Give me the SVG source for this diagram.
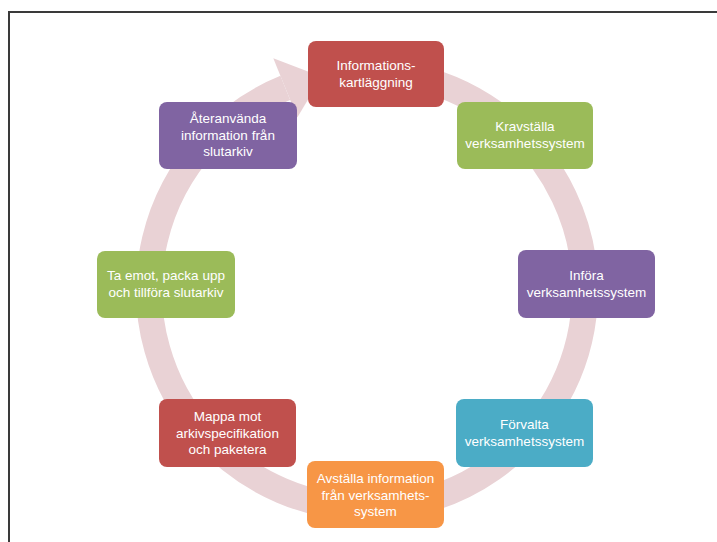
<svg xmlns="http://www.w3.org/2000/svg" width="717" height="542" viewBox="0 0 717 542">
<style>
.box{stroke:none}
.t{font-family:"Liberation Sans",Arial,sans-serif;font-size:13.5px;fill:#ffffff;text-anchor:middle}
.red{fill:#c0504d}.green{fill:#9bbb59}.purple{fill:#8064a2}.teal{fill:#4bacc6}.orange{fill:#f79646}
.ring{fill:none;stroke:#e9d2d5;stroke-width:26}
</style>
<rect x="0" y="0" width="717" height="542" fill="#ffffff"/>
<rect x="9" y="12" width="720" height="540" fill="none" stroke="#3a3a3a" stroke-width="2"/>
<g id="connectors">
<path class="ring" d="M 404.9 75.3 A 218 218 0 1 1 285.3 87.9"/>
<polygon points="273.3,58.2 321.7,76.8 297.3,117.5" fill="#e9d2d5"/>
</g>
<g id="n1"><rect class="box red" x="308" y="41" width="136" height="66" rx="8"/>
<text class="t" x="376" y="70">Informations-</text><text class="t" x="376" y="87">kartläggning</text></g>
<g id="n2"><rect class="box green" x="457" y="102" width="136" height="67" rx="8"/>
<text class="t" x="525" y="131">Kravställa</text><text class="t" x="525" y="148">verksamhetssystem</text></g>
<g id="n3"><rect class="box purple" x="518" y="250" width="137" height="68" rx="8"/>
<text class="t" x="586.5" y="280">Införa</text><text class="t" x="586.5" y="297">verksamhetssystem</text></g>
<g id="n4"><rect class="box teal" x="456" y="399" width="137" height="68" rx="8"/>
<text class="t" x="524.5" y="429">Förvalta</text><text class="t" x="524.5" y="446">verksamhetssystem</text></g>
<g id="n5"><rect class="box orange" x="307" y="461" width="137" height="67" rx="8"/>
<text class="t" x="375.5" y="483">Avställa information</text><text class="t" x="375.5" y="499.5">från verksamhets-</text><text class="t" x="375.5" y="516">system</text></g>
<g id="n6"><rect class="box red" x="159" y="399" width="137" height="68" rx="8"/>
<text class="t" x="227.5" y="421">Mappa mot</text><text class="t" x="227.5" y="437.5">arkivspecifikation</text><text class="t" x="227.5" y="454">och paketera</text></g>
<g id="n7"><rect class="box green" x="97" y="251" width="138" height="67" rx="8"/>
<text class="t" x="166" y="280">Ta emot, packa upp</text><text class="t" x="166" y="297">och tillföra slutarkiv</text></g>
<g id="n8"><rect class="box purple" x="159" y="102" width="138" height="67" rx="8"/>
<text class="t" x="228" y="123">Återanvända</text><text class="t" x="228" y="139.5">information från</text><text class="t" x="228" y="156">slutarkiv</text></g>
</svg>
